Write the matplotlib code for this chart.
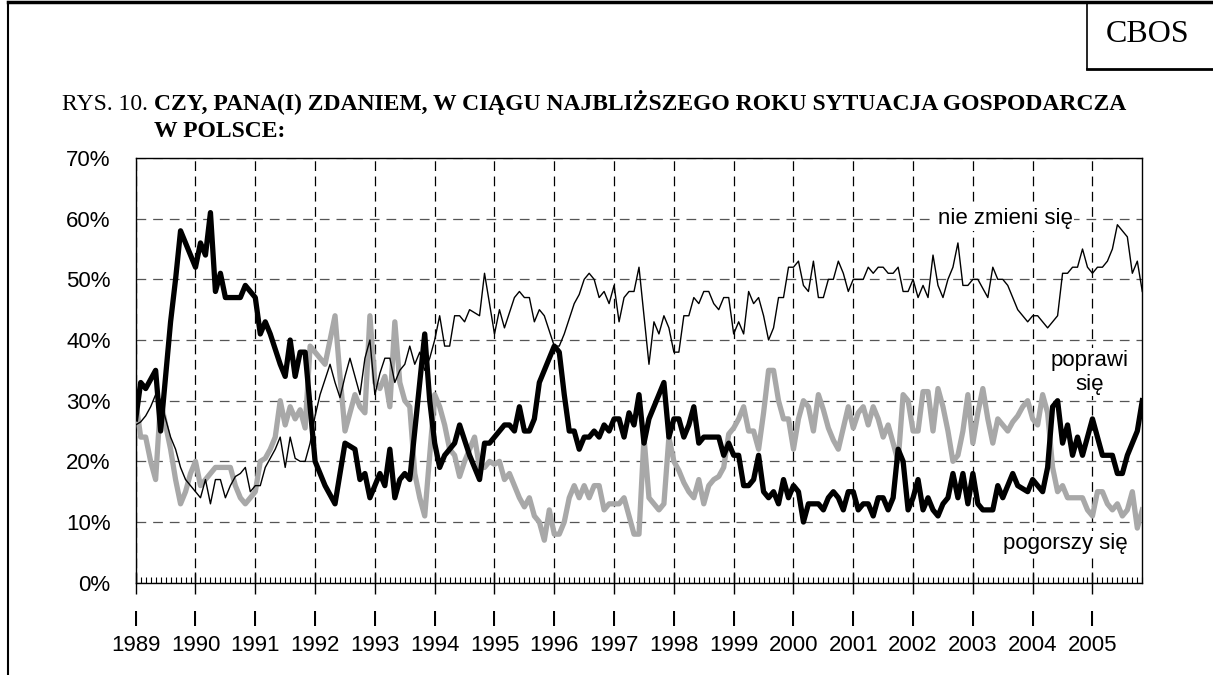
import numpy as np
import matplotlib
matplotlib.use("Agg")
import matplotlib.pyplot as plt
from matplotlib.lines import Line2D

#===========================================================================================================
#INPUTS  (monthly, Jan 1989 - Nov 2005)
#===========================================================================================================
years = list(range(1989, 2006))

poprawi = [27, 33, 32, 33.5, 35, 25, 34, 43, 50, 58, 56, 54, 52, 56, 54, 61, 48, 51, 47, 47,
           47, 47, 49, 48, 47, 41, 43, 41, 38.5, 36, 34, 40, 34, 38, 38, 29, 20, 18, 16, 14.5,
           13, 18, 23, 22.5, 22, 17, 18, 14, 16, 18, 16, 22, 14, 17, 18, 17, 25, 33, 41, 30,
           23, 19, 21, 22, 23, 26, 23.5, 21, 19, 17, 23, 23, 24, 25, 26, 26, 25, 29, 25, 25,
           27, 33, 35, 37, 39, 38, 31, 25, 25, 22, 24, 24, 25, 24, 26, 25, 27, 27, 24, 28,
           26, 31, 23, 27, 29, 31, 33, 24, 27, 27, 24, 26, 29, 23, 24, 24, 24, 24, 21, 23,
           21, 21, 16, 16, 17, 21, 15, 14, 15, 13, 17, 14, 16, 15, 10, 13, 13, 13, 12, 14,
           15, 14, 12, 15, 15, 12, 13, 13, 11, 14, 14, 12, 14, 22, 20, 12, 14, 17, 12, 14,
           12, 11, 13, 14, 18, 14, 18, 13, 18, 13, 12, 12, 12, 16, 14, 16, 18, 16, 15.5, 15,
           17, 16, 15, 19, 29, 30, 23, 26, 21, 24, 21, 24, 27, 24, 21, 21, 21, 18, 18, 21,
           23, 25, 30]

nie_zmieni = [26, 26.5, 27.5, 29, 31, 30, 27, 24, 22, 19, 17, 16, 15, 14, 17, 13, 17, 17, 14, 16,
              17.5, 18, 19, 15, 16, 16, 19, 20.5, 22, 24, 19, 24, 20.5, 20, 20, 23, 27.5, 31, 33.5, 36,
              33, 30.5, 34, 37, 34, 31, 37, 40, 31, 34.5, 37, 37, 33, 35, 36, 39, 36, 38, 35, 37,
              40, 44, 39, 39, 44, 44, 43, 45, 44.5, 44, 51, 46, 41, 45, 42, 44.5, 47, 48, 47, 47,
              43, 45, 44, 41.5, 39, 39, 41, 43.5, 46, 47.5, 50, 51, 50, 47, 48, 46, 49, 43, 47, 48,
              48, 52, 44, 36, 43, 41, 44, 42, 38, 38, 44, 44, 47, 46, 48, 48, 46, 45, 47, 47,
              41, 43, 41, 48, 46, 47, 44, 40, 42, 47, 47, 52, 52, 53, 49, 48, 53, 47, 47, 50,
              50, 53, 51, 48, 50, 50, 50, 52, 51, 52, 52, 51, 51, 52, 48, 48, 50, 47, 49, 47,
              54, 49, 47, 50, 52, 56, 49, 49, 50, 50, 48.5, 47, 52, 50, 50, 49, 47, 45, 44, 43,
              44, 44, 43, 42, 43, 44, 51, 51, 52, 52, 55, 52, 51, 52, 52, 53, 55, 59, 58, 57,
              51, 53, 48]

pogorszy = [30, 24, 24, 20, 17, 30, 26, 22, 17, 13, 15, 18, 20, 16, 17, 18, 19, 19, 19, 19,
            16, 14, 13, 14, 15, 20, 20.5, 22, 24, 30, 26, 29, 27, 28.5, 25.5, 39, 38, 37, 36, 40,
            44, 34, 25, 28, 31, 29, 28, 44, 33, 32, 34, 29, 43, 33, 30, 29, 18, 14, 11, 21,
            31, 29, 26, 22, 21, 17.5, 20, 22, 24, 19, 19, 20, 19.5, 20, 17, 18, 16, 14, 12.5, 14,
            11, 10, 7, 12, 8, 8, 10, 14, 16, 14, 16, 14, 16, 16, 12, 13, 13, 13, 14, 11,
            8, 8, 24, 14, 13, 12, 13, 24, 20, 18.5, 16.5, 15, 14, 17, 13, 16, 17, 17.5, 19, 24.5,
            25.5, 27, 29, 25, 25, 22, 28, 35, 35, 30, 27, 27, 22, 27, 30, 29, 25, 31, 28.5, 25.5,
            23.5, 22, 25.5, 29, 25.5, 28, 29, 26, 29, 27, 24, 26, 23, 20, 31, 30, 25, 25, 31.5, 31.5,
            25, 32, 29, 25, 20, 21, 25, 31, 23, 28, 32, 27, 23, 27, 26, 25, 26.5, 27.5, 29, 30,
            27, 26, 31, 28, 19, 15, 16, 14, 14, 14, 14, 12, 11, 15, 15, 13, 12, 13, 11, 12,
            15, 9, 12]

#===========================================================================================================
#DRAW
#===========================================================================================================
plt.rcParams['font.family'] = ['Liberation Sans', 'DejaVu Sans']
plt.rcParams['lines.scale_dashes'] = False

W, H = 1213, 675
fig = plt.figure(figsize=(W / 100, H / 100), dpi=100)
ax = fig.add_axes([135.7 / W, 1 - 582.7 / H, (1142.3 - 135.7) / W, (582.7 - 158) / H])

x1 = np.arange(len(pogorszy))
x2 = np.arange(len(poprawi))
x3 = np.arange(len(nie_zmieni))
ax.plot(x1, pogorszy, color="#a8a8a8", lw=3.8, zorder=3)
ax.plot(x2, poprawi, color="k", lw=3.8, zorder=4)
ax.plot(x3, nie_zmieni, color="k", lw=1.0, zorder=5)

nmax = max(len(x1), len(x2), len(x3)) - 1
ax.set_xlim(0, nmax)
ax.set_ylim(0, 70)
ax.set_yticks(range(0, 71, 10))
ax.set_yticklabels(["%d%%" % v for v in range(0, 71, 10)], fontsize=16)
ax.tick_params(axis='y', length=0, pad=18)

ax.set_xticks(range(0, 12 * len(years), 12))
ax.set_xticklabels(["I\n%d" % y for y in years], fontsize=16, linespacing=1.25)
ax.set_xticks(range(0, nmax + 1), minor=True)
ax.tick_params(axis='x', which='major', direction='inout', length=16, width=1, pad=12)
ax.tick_params(axis='x', which='minor', direction='in', length=4, width=0.8)

ax.grid(axis='x', which='major', linestyle=(0, (7, 4)), color='k', lw=0.9)
ax.grid(axis='y', which='major', linestyle=(0, (7, 5)), color='#555555', lw=0.9)
for s in ax.spines.values():
    s.set_linewidth(1.0)

box = dict(facecolor='white', edgecolor='none', pad=1)
ax.text(174.5, 60, "nie zmieni się", fontsize=16, ha='center', va='center', bbox=box, zorder=6)
ax.text(191.5, 34.7, "poprawi\nsię", fontsize=16, ha='center', va='center', bbox=box, zorder=6)
ax.text(186.5, 6.5, "pogorszy się", fontsize=16, ha='center', va='center', bbox=box, zorder=6)

# title: regular prefix + bold question
t1 = fig.text(62 / W, 1 - 110 / H, "RYS. 10. ", fontsize=17, family='Liberation Serif', ha='left', va='baseline')
fig.canvas.draw()
bb = t1.get_window_extent()
xb = bb.x1 / W
fig.text(xb, 1 - 110 / H, "CZY, PANA(I) ZDANIEM, W CIĄGU NAJBLIŻSZEGO ROKU SYTUACJA GOSPODARCZA",
         fontsize=17, family='Liberation Serif', weight='bold', ha='left', va='baseline')
fig.text(xb, 1 - 137 / H, "W POLSCE:", fontsize=17, family='Liberation Serif', weight='bold',
         ha='left', va='baseline')

# outer frame and CBOS box
fig.add_artist(Line2D([8 / W, 1], [1 - 2 / H, 1 - 2 / H], color='k', lw=2.5))
fig.add_artist(Line2D([8 / W, 8 / W], [0, 1 - 2 / H], color='k', lw=1.5))
fig.add_artist(Line2D([1087 / W, 1087 / W], [1 - 2 / H, 1 - 69 / H], color='k', lw=1.2))
fig.add_artist(Line2D([1087 / W, 1], [1 - 69 / H, 1 - 69 / H], color='k', lw=2.0))
fig.text(1148 / W, 1 - 35 / H, "CBOS", fontsize=23, family='Liberation Serif', ha='center', va='center')

fig.savefig("out.png", dpi=100)
